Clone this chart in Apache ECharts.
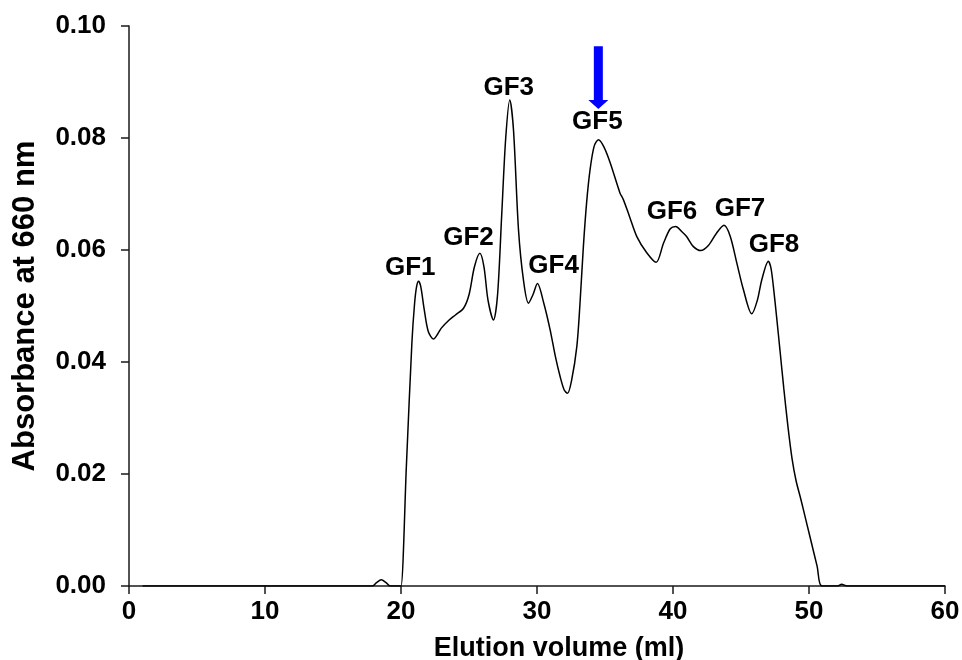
<!DOCTYPE html>
<html>
<head>
<meta charset="utf-8">
<script src="https://cdn.jsdelivr.net/npm/echarts@6/dist/echarts.min.js"></script>
<style>
html,body{margin:0;padding:0;background:#fff;}
#chart{width:962px;height:660px;}
</style>
</head>
<body>
<div id="chart"></div>
<script>
// Elution volume (ml)
var elutionVolume = [1.0, 17.9, 18.2, 18.55, 18.9, 19.2, 19.9, 20.0, 20.4, 20.8, 21.0, 21.15, 21.29, 21.45, 21.7, 22.0, 22.39, 22.7, 22.95, 23.5, 24.0, 24.6, 25.0, 25.4, 25.8, 26.1, 26.4, 26.8, 27.1, 27.4, 27.7, 28.0, 28.27, 28.64, 29.0, 29.37, 29.7, 30.03, 30.5, 30.97, 31.35, 31.7, 32.0, 32.24, 32.55, 32.93, 33.15, 33.41, 33.65, 33.9, 34.2, 34.52, 34.9, 35.38, 36.1, 36.35, 36.8, 37.34, 38.07, 38.76, 39.3, 39.8, 40.2, 40.6, 41.0, 41.5, 42.04, 42.6, 43.2, 43.75, 44.2, 44.69, 45.18, 45.79, 46.2, 46.53, 47.01, 47.2, 47.38, 47.62, 47.87, 48.15, 48.45, 48.75, 49.05, 49.4, 49.8, 50.2, 50.6, 50.94, 52.1, 52.4, 52.8, 60.0];
// Absorbance at 660 nm
var absorbance = [0, 0, 0.0006, 0.0011, 0.0006, 0, 0, 0, 0.0217, 0.0434, 0.0505, 0.0535, 0.0544, 0.0535, 0.0495, 0.0455, 0.0441, 0.0450, 0.0460, 0.0474, 0.0484, 0.0496, 0.0520, 0.0570, 0.0594, 0.0570, 0.0510, 0.0475, 0.0520, 0.0660, 0.0800, 0.0868, 0.0815, 0.0636, 0.0547, 0.0505, 0.0520, 0.0540, 0.0505, 0.0457, 0.0410, 0.0374, 0.0350, 0.0344, 0.0368, 0.0428, 0.0500, 0.0606, 0.0685, 0.0743, 0.0785, 0.0797, 0.0785, 0.0756, 0.0702, 0.0690, 0.0660, 0.0624, 0.0595, 0.0578, 0.0612, 0.0638, 0.0642, 0.0634, 0.0624, 0.0606, 0.0599, 0.0608, 0.0630, 0.0644, 0.0625, 0.0577, 0.0529, 0.0486, 0.0510, 0.0547, 0.0580, 0.0568, 0.0535, 0.0480, 0.0420, 0.0352, 0.0285, 0.0228, 0.0188, 0.0155, 0.0115, 0.0075, 0.0035, 0, 0, 0.0003, 0, 0];

// Peak labels and their anchor points (data coordinates)
var peakNames = ['GF1', 'GF2', 'GF3', 'GF4', 'GF5', 'GF6', 'GF7', 'GF8'];
var peakLabelX = [20.68, 24.96, 27.92, 31.22, 34.44, 39.93, 44.93, 47.43];
var peakLabelY = [0.0568, 0.0622, 0.0890, 0.0572, 0.0829, 0.0668, 0.0674, 0.0609];

// Arrow marking GF5: [x, top y, tip y]
var arrowX = [34.51];
var arrowTopY = [0.0964];
var arrowTipY = [0.0852];

// Axis ticks
var xTicks = [0, 10, 20, 30, 40, 50, 60];
var yTicks = ['0.00', '0.02', '0.04', '0.06', '0.08', '0.10'];

var FONT = '"Liberation Sans", Arial, sans-serif';

var curve = elutionVolume.map(function (x, i) { return [x, absorbance[i]]; });
var labels = peakNames.map(function (n, i) { return { name: n, value: [peakLabelX[i], peakLabelY[i]] }; });
var arrows = arrowX.map(function (x, i) { return [x, arrowTopY[i], arrowTipY[i]]; });

var chart = echarts.init(document.getElementById('chart'), null, { renderer: 'canvas' });
chart.setOption({
  animation: false,
  backgroundColor: '#ffffff',
  grid: { left: 129, right: 17, top: 26, bottom: 74, containLabel: false, outerBoundsMode: 'none' },
  xAxis: {
    type: 'value',
    min: xTicks[0], max: xTicks[xTicks.length - 1], interval: 10,
    name: 'Elution volume (ml)',
    nameLocation: 'middle',
    nameGap: 49,
    nameTextStyle: { fontFamily: FONT, fontWeight: 'bold', fontSize: 27, color: '#000', padding: [0, 0, 0, 44] },
    axisLine: { onZero: false, lineStyle: { color: '#1a1a1a', width: 1.5 } },
    axisTick: { show: true, inside: false, length: 8, lineStyle: { color: '#1a1a1a', width: 1.5 } },
    axisLabel: { margin: 13, fontFamily: FONT, fontWeight: 'bold', fontSize: 26, color: '#000' },
    splitLine: { show: false }
  },
  yAxis: {
    type: 'value',
    min: 0, max: 0.1, interval: 0.02,
    name: 'Absorbance at 660 nm',
    nameLocation: 'middle',
    nameRotate: 90,
    nameGap: 88,
    nameTextStyle: { fontFamily: FONT, fontWeight: 'bold', fontSize: 31, color: '#000' },
    axisLine: { show: true, onZero: false, lineStyle: { color: '#1a1a1a', width: 1.5 } },
    axisTick: { show: true, inside: false, length: 8, lineStyle: { color: '#1a1a1a', width: 1.5 } },
    axisLabel: {
      margin: 23, fontFamily: FONT, fontWeight: 'bold', fontSize: 26, color: '#000',
      formatter: function (v) { var idx = Math.round(v / 0.02); return yTicks[idx]; }
    },
    splitLine: { show: false }
  },
  series: [
    {
      type: 'line',
      data: curve,
      smooth: 0.3,
      showSymbol: false,
      lineStyle: { color: '#000', width: 1.5 },
      z: 3
    },
    {
      type: 'scatter',
      data: labels,
      symbolSize: 0,
      itemStyle: { opacity: 1 },
      emphasis: { disabled: true },
      label: {
        show: true, position: 'inside', formatter: '{b}', opacity: 1,
        fontFamily: FONT, fontWeight: 'bold', fontSize: 26, color: '#000',
        textBorderWidth: 0
      },
      z: 4
    },
    {
      type: 'custom',
      data: arrows,
      renderItem: function (params, api) {
        var top = api.coord([api.value(0), api.value(1)]);
        var tip = api.coord([api.value(0), api.value(2)]);
        var cx = top[0];
        var sw = 4.5, hw = 10, hl = 9;
        var hb = tip[1] - hl;
        return {
          type: 'polygon',
          shape: { points: [
            [cx - sw, top[1]], [cx + sw, top[1]], [cx + sw, hb], [cx + hw, hb],
            [cx, tip[1]], [cx - hw, hb], [cx - sw, hb]
          ] },
          style: { fill: '#0000ff' }
        };
      },
      z: 5
    }
  ]
});
</script>
</body>
</html>
